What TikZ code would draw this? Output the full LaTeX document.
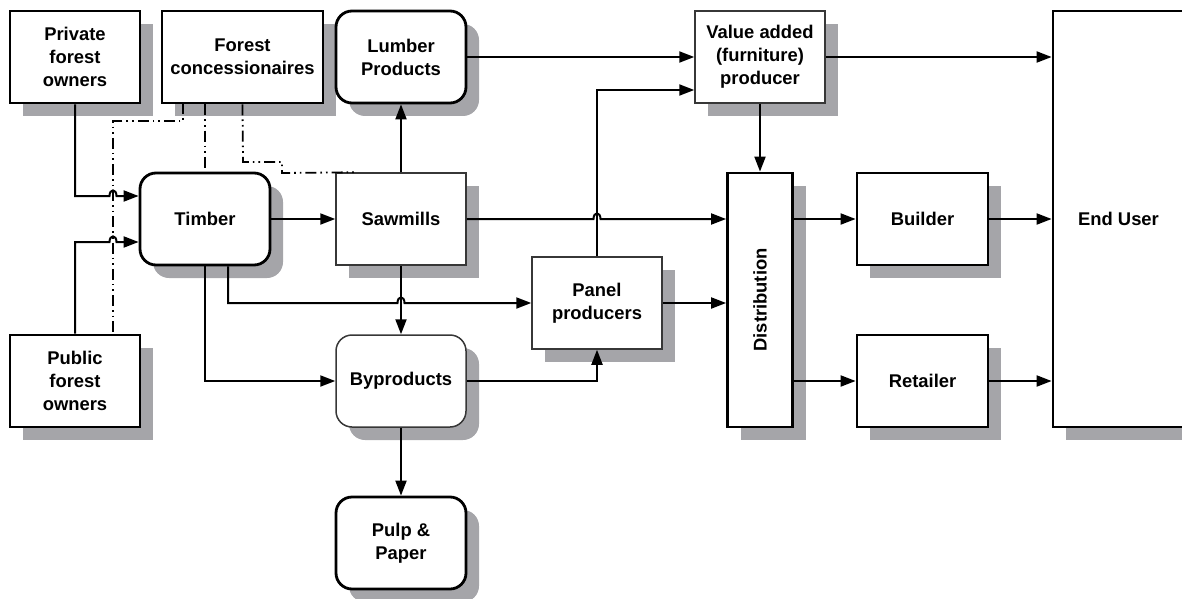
\documentclass[tikz,border=0pt]{standalone}
\usepackage{fontspec}
\setmainfont{Liberation Sans}
\usetikzlibrary{arrows.meta,shadows,calc}
\definecolor{shade}{RGB}{165,165,169}
\definecolor{thinline}{RGB}{55,55,55}

\begin{document}
\begin{tikzpicture}[x=1pt,y=-1pt,
  box/.style={draw=black, line width=2.8pt, fill=white,
    minimum width=130pt, minimum height=92pt, inner sep=2pt,
    align=center, font=\fontsize{18.4}{23}\selectfont\bfseries,
    drop shadow={shadow xshift=13pt, shadow yshift=-13pt, fill=shade, opacity=1}},
  thinbox/.style={box, draw=thinline, line width=1.5pt},
  rbox/.style={rounded corners=16pt},
  flow/.style={line width=2pt, -{Triangle[length=15pt,width=11pt]}},
  link/.style={line width=1.8pt,
    dash pattern=on 11pt off 4pt on 1.6pt off 4pt on 1.6pt off 4pt},
  label/.style={font=\fontsize{18.4}{23}\selectfont\bfseries, inner sep=0pt},
]
\path[use as bounding box, clip] (0,0) rectangle (1182,599);

% suppliers and processors
\node[box] (priv) at (75,57) {Private\\forest\\owners};
\node[box, minimum width=161pt] (conc) at (242.5,57) {Forest\\concessionaires};
\node[box, rbox] (lumb) at (401,57) {Lumber\\Products};
\node[box, rbox] (timb) at (205,219) {Timber};
\node[thinbox] (saw) at (401,219) {Sawmills};
\node[box] (pub) at (75,381) {Public\\forest\\owners};
\node[thinbox, rbox] (byp) at (401,381) {Byproducts};
\node[box, rbox] (pulp) at (401,543) {Pulp \&\\Paper};
\node[thinbox] (panel) at (597,303) {Panel\\producers};
\node[thinbox] (val) at (760,57) {Value added\\(furniture)\\producer};

% distribution chain
\node[box, minimum width=65pt, minimum height=254pt] (dist) at (760,300) {};
\node[label, rotate=90] at (dist.center) {Distribution};
\node[box, minimum width=131pt] (build) at (922.5,219) {Builder};
\node[box, minimum width=131pt] (ret) at (922.5,381) {Retailer};
\node[box, minimum width=131pt, minimum height=416pt] (endu) at (1118.5,219) {End User};

% ownership / concession links
\draw[link] (183,103) -- (183,121) -- (113,121) -- (pub.north -| 113,0);
\draw[link] (timb.north |- conc.south) -- (timb.north);
\draw[link] (conc.south) -- (243,162) -- (282,162) -- (282,173)
  -- ($(saw.north west)+(21,0)$);

% material flows
\draw[flow] (priv.south) -- (75,196) -- (109.5,196)
  .. controls (109.5,188.5) and (116.5,188.5) .. (116.5,196) -- (timb.west |- 0,196);
\draw[flow] (pub.north) -- (75,242) -- (109.5,242)
  .. controls (109.5,234.5) and (116.5,234.5) .. (116.5,242) -- (timb.west |- 0,242);
\draw[flow] (timb.east) -- (saw.west);
\draw[flow] (saw.north) -- (lumb.south);
\draw[flow] (lumb.east) -- (val.west);
\draw[flow] (val.east) -- (val.east -| endu.west);
\draw[flow] (val.south) -- (dist.north);
\draw[flow] (saw.east) -- (593.5,219)
  .. controls (593.5,211.5) and (600.5,211.5) .. (600.5,219) -- (dist.west |- saw.east);
\draw[flow] (panel.north) -- (597,90) -- (val.west |- 0,90);
\draw[flow] (saw.south) -- (byp.north);
\draw[flow] ($(timb.south)+(23,0)$) -- (228,303) -- (397.5,303)
  .. controls (397.5,295.5) and (404.5,295.5) .. (404.5,303) -- (panel.west);
\draw[flow] (timb.south) |- (byp.west);
\draw[flow] (byp.east) -| (panel.south);
\draw[flow] (panel.east) -- (panel.east -| dist.west);
\draw[flow] (byp.south) -- (pulp.north);
\draw[flow] (build.west -| dist.east) -- (build.west);
\draw[flow] (ret.west -| dist.east) -- (ret.west);
\draw[flow] (build.east) -- (build.east -| endu.west);
\draw[flow] (ret.east) -- (ret.east -| endu.west);
\end{tikzpicture}
\end{document}
